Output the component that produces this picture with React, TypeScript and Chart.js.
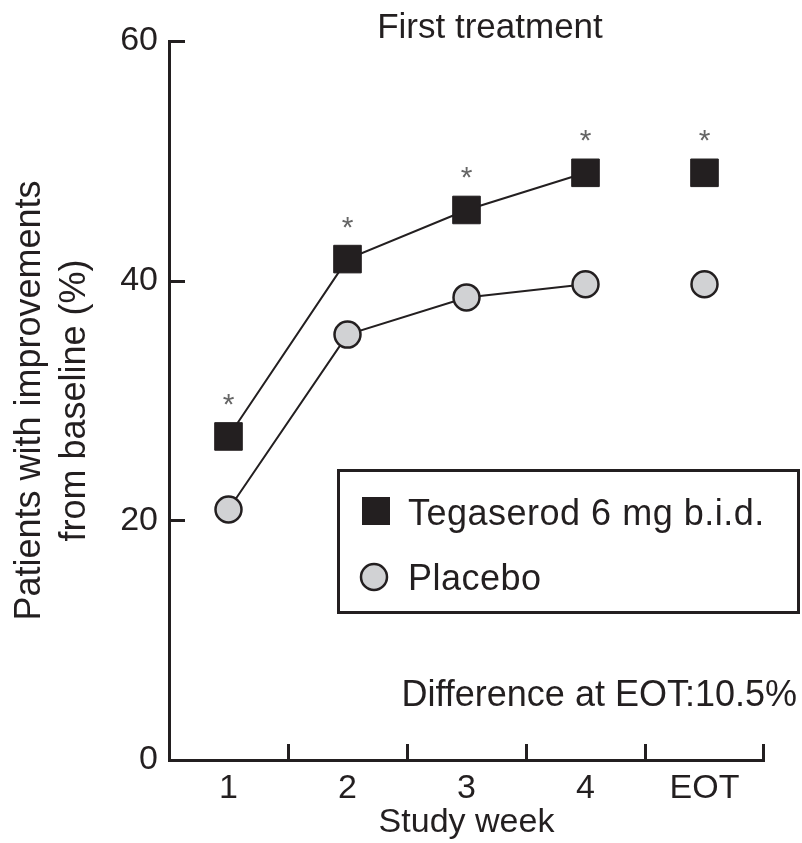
import React, { useEffect, useRef } from 'react';
import { Chart, registerables } from 'chart.js';

Chart.register(...registerables);

// ---- data ----
const categories = ['1', '2', '3', '4', 'EOT'];
const tegaserod = [27.0, 41.8, 45.9, 49.0, 49.0];
const placebo = [20.9, 35.5, 38.6, 39.7, 39.7];
const significant = [true, true, true, true, true];
const yTicks = [0, 20, 40, 60];
const seriesLabels = ['Tegaserod 6 mg b.i.d.', 'Placebo'];
const titleText = 'First treatment';
const noteText = 'Difference at EOT:10.5%';
const xTitle = 'Study week';
const yTitle = ['Patients with improvements', 'from baseline (%)'];

// ---- styles ----
const INK = '#231f20';
const GREY = '#d1d2d4';
const FONT = "'Liberation Sans', Arial, sans-serif";
const FS = 34;

const decor = {
  id: 'decor',
  afterDatasetsDraw(chart: any) {
    const { ctx, chartArea, scales } = chart;
    const x = scales.x;
    const y = scales.y;
    ctx.save();
    ctx.strokeStyle = INK;
    ctx.lineWidth = 3;
    ctx.lineCap = 'butt';
    // inward y ticks
    yTicks.forEach((v) => {
      const py = Math.round(y.getPixelForValue(v)) + 0.5;
      ctx.beginPath();
      ctx.moveTo(chartArea.left, py);
      ctx.lineTo(chartArea.left + 16, py);
      ctx.stroke();
    });
    // inward x ticks at category boundaries
    for (let i = 1; i <= categories.length; i++) {
      const px =
        i < categories.length
          ? (x.getPixelForValue(i - 1) + x.getPixelForValue(i)) / 2
          : chartArea.right - 1;
      const rx = Math.round(px) + 0.5;
      ctx.beginPath();
      ctx.moveTo(rx, chartArea.bottom);
      ctx.lineTo(rx, chartArea.bottom - 16);
      ctx.stroke();
    }
    // asterisks
    const meta = chart.getDatasetMeta(0);
    ctx.fillStyle = '#666666';
    ctx.font = `30px ${FONT}`;
    ctx.textAlign = 'center';
    ctx.textBaseline = 'alphabetic';
    const m = ctx.measureText('*');
    const off = (m.actualBoundingBoxAscent - m.actualBoundingBoxDescent) / 2;
    meta.data.forEach((pt: any, i: number) => {
      if (significant[i]) ctx.fillText('*', pt.x, pt.y - 37 + off);
    });
    // title
    ctx.fillStyle = INK;
    ctx.textAlign = 'center';
    ctx.font = `35px ${FONT}`;
    ctx.fillText(titleText, 490, 38);
    // legend box
    ctx.lineWidth = 3;
    ctx.strokeRect(338.5, 470.5, 460, 142);
    ctx.fillStyle = INK;
    ctx.fillRect(362, 497, 28, 28);
    ctx.beginPath();
    ctx.arc(374, 577, 13, 0, Math.PI * 2);
    ctx.fillStyle = GREY;
    ctx.fill();
    ctx.lineWidth = 2.5;
    ctx.stroke();
    ctx.fillStyle = INK;
    ctx.textAlign = 'left';
    ctx.font = `36px ${FONT}`;
    (ctx as any).letterSpacing = '0.5px';
    ctx.fillText(seriesLabels[0], 408, 525);
    ctx.fillText(seriesLabels[1], 408, 590);
    (ctx as any).letterSpacing = '0px';
    // note
    ctx.textAlign = 'right';
    ctx.font = `36px ${FONT}`;
    ctx.fillText(noteText, 797, 706);
    ctx.restore();
  },
};

export default function App() {
  const ref = useRef<HTMLCanvasElement>(null);
  useEffect(() => {
    const lineSeg = (ctx: any) => (ctx.p1DataIndex === categories.length - 1 ? 'rgba(0,0,0,0)' : INK);
    const chart = new Chart(ref.current as HTMLCanvasElement, {
      type: 'line',
      data: {
        labels: categories,
        datasets: [
          {
            label: seriesLabels[0],
            data: tegaserod,
            borderColor: INK,
            borderWidth: 2,
            backgroundColor: INK,
            pointStyle: 'rect',
            pointRadius: 19.5,
            pointBorderWidth: 1,
            pointBorderColor: INK,
            pointBackgroundColor: INK,
            segment: { borderColor: lineSeg },
            clip: false,
          } as any,
          {
            label: seriesLabels[1],
            data: placebo,
            borderColor: INK,
            borderWidth: 2,
            backgroundColor: GREY,
            pointStyle: 'circle',
            pointRadius: 13,
            pointBorderWidth: 2.5,
            pointBorderColor: INK,
            pointBackgroundColor: GREY,
            segment: { borderColor: lineSeg },
            clip: false,
          } as any,
        ],
      },
      options: {
        responsive: false,
        animation: false,
        layout: { padding: { top: 41, right: 38, left: 0, bottom: 0 } },
        plugins: { legend: { display: false }, tooltip: { enabled: false } },
        scales: {
          x: {
            type: 'category',
            offset: true,
            grid: { display: false, drawTicks: false },
            border: { display: true, color: INK, width: 3 },
            ticks: { color: INK, font: { family: FONT, size: FS }, padding: 8, maxRotation: 0 },
            title: {
              display: true,
              text: xTitle,
              color: INK,
              font: { family: FONT, size: FS, lineHeight: 1.2 },
              padding: { top: 0, bottom: 0 },
            },
            afterFit: (s: any) => {
              s.height = 83;
            },
          },
          y: {
            min: 0,
            max: 60,
            grid: { display: false, drawTicks: false },
            border: { display: true, color: INK, width: 3 },
            ticks: {
              color: INK,
              font: { family: FONT, size: FS },
              padding: 11,
              stepSize: 20,
              callback: (v: any) => (yTicks.includes(Number(v)) ? String(v) : ''),
            },
            title: {
              display: true,
              text: yTitle,
              color: INK,
              font: { family: FONT, size: 36, lineHeight: 1.25 },
              padding: { top: 8, bottom: 0 },
            },
            afterFit: (s: any) => {
              s.width = 169;
            },
          },
        },
      } as any,
      plugins: [decor],
    });
    return () => chart.destroy();
  }, []);
  return (
    <div style={{ position: 'absolute', left: 0, top: 0, width: 802, height: 843, background: '#fff' }}>
      <canvas ref={ref} width={802} height={843} style={{ display: 'block' }} />
    </div>
  );
}
